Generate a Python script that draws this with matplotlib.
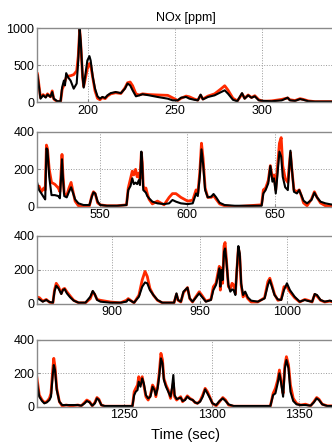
import numpy as np
import matplotlib
matplotlib.use('Agg')
import matplotlib.pyplot as plt

plt.rcParams['font.family'] = ['Liberation Sans', 'DejaVu Sans']

# panel 1 (time in sec, NOx in ppm)
t1 = [171.3, 173, 174.5, 176, 177, 178.7, 179.7, 180.6, 182.6, 184.5, 185.4, 186.4, 187, 187.7,
      188.9, 190.2, 192, 193.7, 194.6, 195.4, 196, 197.1, 197.7, 198.5, 199.8, 201, 201.7, 202.9,
      204.2, 205.6, 207, 208.4, 210, 211.3, 213.2, 216, 219, 221.3, 222.8, 224.3, 225.7, 227.6,
      229.5, 231.4, 235.2, 240, 245.8, 248.7, 251.5, 253.4, 256.3, 258.2, 261, 263, 264.6, 265.9,
      268.8, 272.6, 276.4, 278.4, 280.3, 283.1, 285.6, 287, 288.3, 289.8, 291.8, 293.7, 295.6,
      297.9, 300.4, 305.2, 311, 314.4, 315.7, 318.6, 321.5, 323.4, 326.2, 330, 340.8]
black1 = [360, 45, 90, 60, 100, 70, 135, 45, 10, 10, 200, 290, 225, 390, 330, 290, 180, 250, 560,
          990, 830, 340, 195, 340, 560, 620, 560, 340, 180, 77, 45, 68, 55, 90, 120, 135, 120, 180,
          250, 225, 158, 77, 90, 105, 90, 68, 45, 22, 22, 58, 68, 45, 30, 22, 100, 35, 68, 90, 135,
          158, 112, 30, 10, 68, 120, 45, 90, 58, 77, 22, 15, 10, 22, 58, 22, 15, 40, 30, 10, 5, 5]
red1 = [380, 60, 100, 70, 110, 70, 150, 40, 5, 5, 170, 230, 280, 330, 350, 355, 370, 420, 620,
        980, 800, 330, 210, 300, 450, 520, 500, 330, 150, 50, 30, 60, 45, 80, 110, 125, 115, 190,
        260, 270, 220, 110, 95, 110, 100, 95, 90, 55, 20, 50, 80, 70, 40, 25, 90, 40, 80, 110, 180,
        220, 160, 50, 15, 60, 110, 50, 95, 60, 85, 30, 10, 15, 35, 55, 30, 20, 45, 35, 15, 5, 5]

# panel 2
t2 = [513.8, 515.2, 516.5, 517.9, 518.7, 519.4, 520, 521, 522.3, 524.2, 526.2, 527.1, 527.7, 528.3,
      528.8, 529.6, 531, 532.3, 533.5, 534.4, 535.8, 537.7, 540.6, 544, 545.4, 546.3, 547.3, 548.7,
      550.2, 554, 559.8, 565.2, 566.2, 567.5, 568.5, 569.4, 570.4, 571.3, 572.3, 572.9, 573.7,
      574.2, 574.8, 575.8, 576.3, 577.1, 578.1, 580, 582.9, 586.7, 589.6, 591.5, 593.5, 596.3,
      600.2, 603.1, 605, 606, 607.1, 608.1, 609, 610.2, 611.7, 613.7, 615, 616.5, 618.5, 621.3,
      627.1, 634.8, 642.5, 643.5, 644.8, 646.3, 647.5, 648.7, 649.6, 650.6, 651.3, 652.7, 653.7,
      654.6, 656, 657.5, 658.3, 659, 659.8, 661, 662.7, 664, 665.2, 666.5, 668.5, 671, 672.7,
      674.2, 676.2, 679, 684]
black2 = [139, 89, 71, 50, 39, 312, 304, 160, 62, 62, 57, 45, 143, 254, 160, 57, 50, 80, 104, 80,
          39, 18, 9, 9, 54, 77, 71, 27, 9, 5, 5, 9, 89, 111, 152, 121, 129, 121, 143, 116, 295, 232,
          89, 80, 75, 57, 45, 27, 18, 14, 18, 36, 27, 18, 14, 18, 71, 57, 160, 307, 232, 89, 50, 54,
          68, 50, 21, 9, 5, 5, 5, 71, 89, 125, 218, 134, 152, 71, 143, 295, 268, 160, 104, 89, 205,
          300, 205, 80, 71, 89, 62, 32, 18, 36, 75, 50, 27, 18, 9]
red2 = [100, 110, 80, 100, 90, 330, 310, 200, 130, 120, 100, 80, 170, 280, 180, 70, 60, 100, 130,
        90, 30, 5, 0, 5, 60, 80, 70, 20, 10, 5, 5, 10, 100, 150, 190, 170, 200, 160, 180, 150, 290,
        240, 110, 90, 100, 70, 40, 15, 30, 10, 50, 70, 70, 50, 30, 35, 90, 70, 180, 340, 260, 100,
        50, 50, 60, 40, 15, 5, 0, 5, 10, 90, 100, 140, 220, 150, 170, 90, 180, 340, 370, 220, 150,
        130, 220, 290, 200, 90, 80, 90, 60, 20, 5, 40, 80, 50, 20, 5, 5]

# panel 3
t3 = [857.1, 858.4, 860.3, 862.3, 864.2, 866.1, 867, 868, 869.3, 870.9, 871.8, 872.8, 874.1, 876,
      878, 880.8, 884.7, 887.5, 888.9, 890, 891.4, 893.3, 899, 904.8, 908.2, 909.2, 910.5, 912.5,
      915.3, 917.2, 918.8, 920.1, 921.6, 923.6, 925.9, 928.7, 935.4, 936.8, 937.7, 939.3, 940.8,
      943.1, 944.4, 946, 947.5, 949.8, 951.3, 953.6, 956.5, 957.9, 959.4, 960.3, 961.3, 961.9,
      962.5, 963.2, 964, 964.6, 965.3, 966.5, 967.6, 968.6, 969.5, 970.5, 971.3, 972.2, 973,
      973.8, 974.9, 976.1, 977.6, 979.5, 983.3, 987.2, 989.1, 990.2, 991.4, 992.9, 994.8, 996.7,
      998.3, 1000, 1001.7, 1004.4, 1007.3, 1010.2, 1012.1, 1014.4, 1015.9, 1017.2, 1019.2,
      1021.6, 1024.5, 1026.6]
black3 = [31, 25, 12, 22, 10, 6, 71, 106, 90, 57, 80, 86, 61, 37, 18, 6, 6, 41, 75, 57, 22, 12, 6,
          6, 12, 25, 18, 6, 41, 100, 125, 120, 80, 51, 22, 6, 6, 61, 22, 12, 71, 94, 31, 12, 31, 61,
          41, 12, 22, 80, 110, 149, 208, 100, 198, 139, 306, 325, 257, 110, 71, 84, 80, 51, 198,
          339, 296, 120, 51, 71, 37, 18, 12, 31, 110, 139, 100, 51, 25, 22, 80, 120, 80, 41, 12, 22,
          16, 12, 57, 51, 22, 12, 18, 12]
red3 = [40, 35, 15, 25, 8, 5, 80, 120, 100, 60, 85, 90, 70, 45, 20, 5, 5, 30, 70, 55, 25, 20, 10, 5,
        20, 30, 20, 5, 50, 140, 190, 160, 90, 50, 20, 5, 5, 55, 20, 10, 65, 95, 30, 10, 35, 70, 50,
        15, 25, 100, 120, 170, 220, 80, 210, 120, 340, 360, 270, 100, 90, 120, 110, 60, 190, 330,
        280, 110, 40, 60, 30, 10, 10, 35, 130, 150, 110, 55, 20, 25, 100, 100, 70, 35, 10, 25, 20,
        10, 55, 45, 20, 10, 15, 10]

# panel 4
t4 = [1199.6, 1200.4, 1201.3, 1202.9, 1204.2, 1205.6, 1207.1, 1208, 1209, 1209.6, 1210.3, 1211.3,
      1212.8, 1214.4, 1216.7, 1219.5, 1223.4, 1225.3, 1227.2, 1228.5, 1230.1, 1231.6, 1233.1,
      1234.3, 1235.4, 1236.8, 1238.7, 1243.5, 1249.2, 1254.6, 1255.6, 1256.5, 1257.5, 1258.2,
      1259.2, 1260.2, 1261.1, 1262.3, 1263.6, 1264.9, 1266.1, 1267.2, 1268, 1269, 1269.9, 1270.9,
      1271.8, 1272.6, 1273.8, 1275.1, 1276.4, 1277.2, 1278, 1278.7, 1279.9, 1281, 1282.2, 1283.3,
      1284.7, 1286, 1287.5, 1289.1, 1290.4, 1291.8, 1293.3, 1294.8, 1296.2, 1297.5, 1299, 1300.4,
      1302.5, 1304.4, 1306.3, 1307.9, 1309.6, 1312.5, 1322, 1333.5, 1335.1, 1336.4, 1337.7,
      1338.7, 1339.7, 1340.8, 1341.8, 1342.7, 1343.9, 1345, 1346.6, 1348.5, 1350.8, 1353.6,
      1356.5, 1358.4, 1360, 1361.3, 1363.2, 1366.1, 1369.2]
black4 = [180, 120, 60, 34, 20, 26, 40, 60, 190, 250, 220, 100, 30, 10, 10, 10, 10, 6, 20, 34, 26,
          6, 20, 50, 40, 10, 4, 4, 4, 4, 70, 90, 100, 150, 120, 170, 140, 70, 50, 60, 120, 100, 70,
          110, 180, 290, 260, 160, 120, 90, 60, 110, 190, 70, 46, 50, 54, 34, 40, 60, 46, 40, 26, 20,
          30, 60, 104, 80, 50, 20, 10, 34, 50, 34, 14, 4, 4, 4, 70, 80, 140, 200, 140, 60, 230, 280,
          230, 90, 34, 14, 10, 10, 6, 26, 50, 40, 14, 4, 4]
red4 = [200, 140, 70, 40, 25, 30, 50, 80, 220, 290, 240, 110, 30, 5, 10, 5, 10, 5, 25, 40, 30, 5,
        25, 55, 45, 10, 3, 3, 3, 3, 90, 110, 130, 180, 140, 180, 130, 60, 40, 70, 130, 110, 60, 120,
        200, 320, 280, 170, 130, 100, 50, 100, 140, 60, 40, 50, 60, 30, 45, 65, 50, 40, 25, 20, 35,
        70, 110, 90, 55, 20, 5, 30, 55, 40, 10, 3, 3, 3, 80, 110, 160, 220, 150, 80, 250, 300, 250,
        130, 50, 20, 10, 15, 5, 30, 55, 45, 15, 5, 5]

panels = [(t1, red1, black1, (171, 341), 1000, [0, 500, 1000], [200, 250, 300]),
          (t2, red2, black2, (514, 684), 400, [0, 200, 400], [550, 600, 650]),
          (t3, red3, black3, (857, 1027), 400, [0, 200, 400], [900, 950, 1000]),
          (t4, red4, black4, (1200, 1370), 400, [0, 200, 400], [1250, 1300, 1350])]

# axes boxes in figure pixels: (top, bottom)
boxes = [(28, 102), (132, 206.7), (235.7, 303.7), (340, 406.7)]

W, H = 332, 442
fig = plt.figure(figsize=(W / 100, H / 100), dpi=100)

for i, (t, red, black, xl, ymax, yt, xt) in enumerate(panels):
    top, bot = boxes[i]
    ax = fig.add_axes([37 / W, 1 - bot / H, 0.895, (bot - top) / H])
    ax.plot(t, red, color='#ff2a00', lw=2.0)
    ax.plot(t, black, color='black', lw=1.5)
    ax.set_xlim(xl)
    ax.set_ylim(0, ymax)
    ax.set_yticks(yt)
    ax.set_xticks(xt)
    ax.grid(True, linestyle=':', color='#999999', lw=0.7)
    for s in ax.spines.values():
        s.set_color('#8a8a8a')
        s.set_linewidth(1.0)
    ax.tick_params(direction='in', length=2, colors='#8a8a8a', labelcolor='black',
                   labelsize=9, pad=2)
    if i == 0:
        ax.set_title('NOx [ppm]', fontsize=9, pad=5)
    if i == 3:
        ax.set_xlabel('Time (sec)', fontsize=10.5, labelpad=5)

fig.savefig('out.png', dpi=100)
